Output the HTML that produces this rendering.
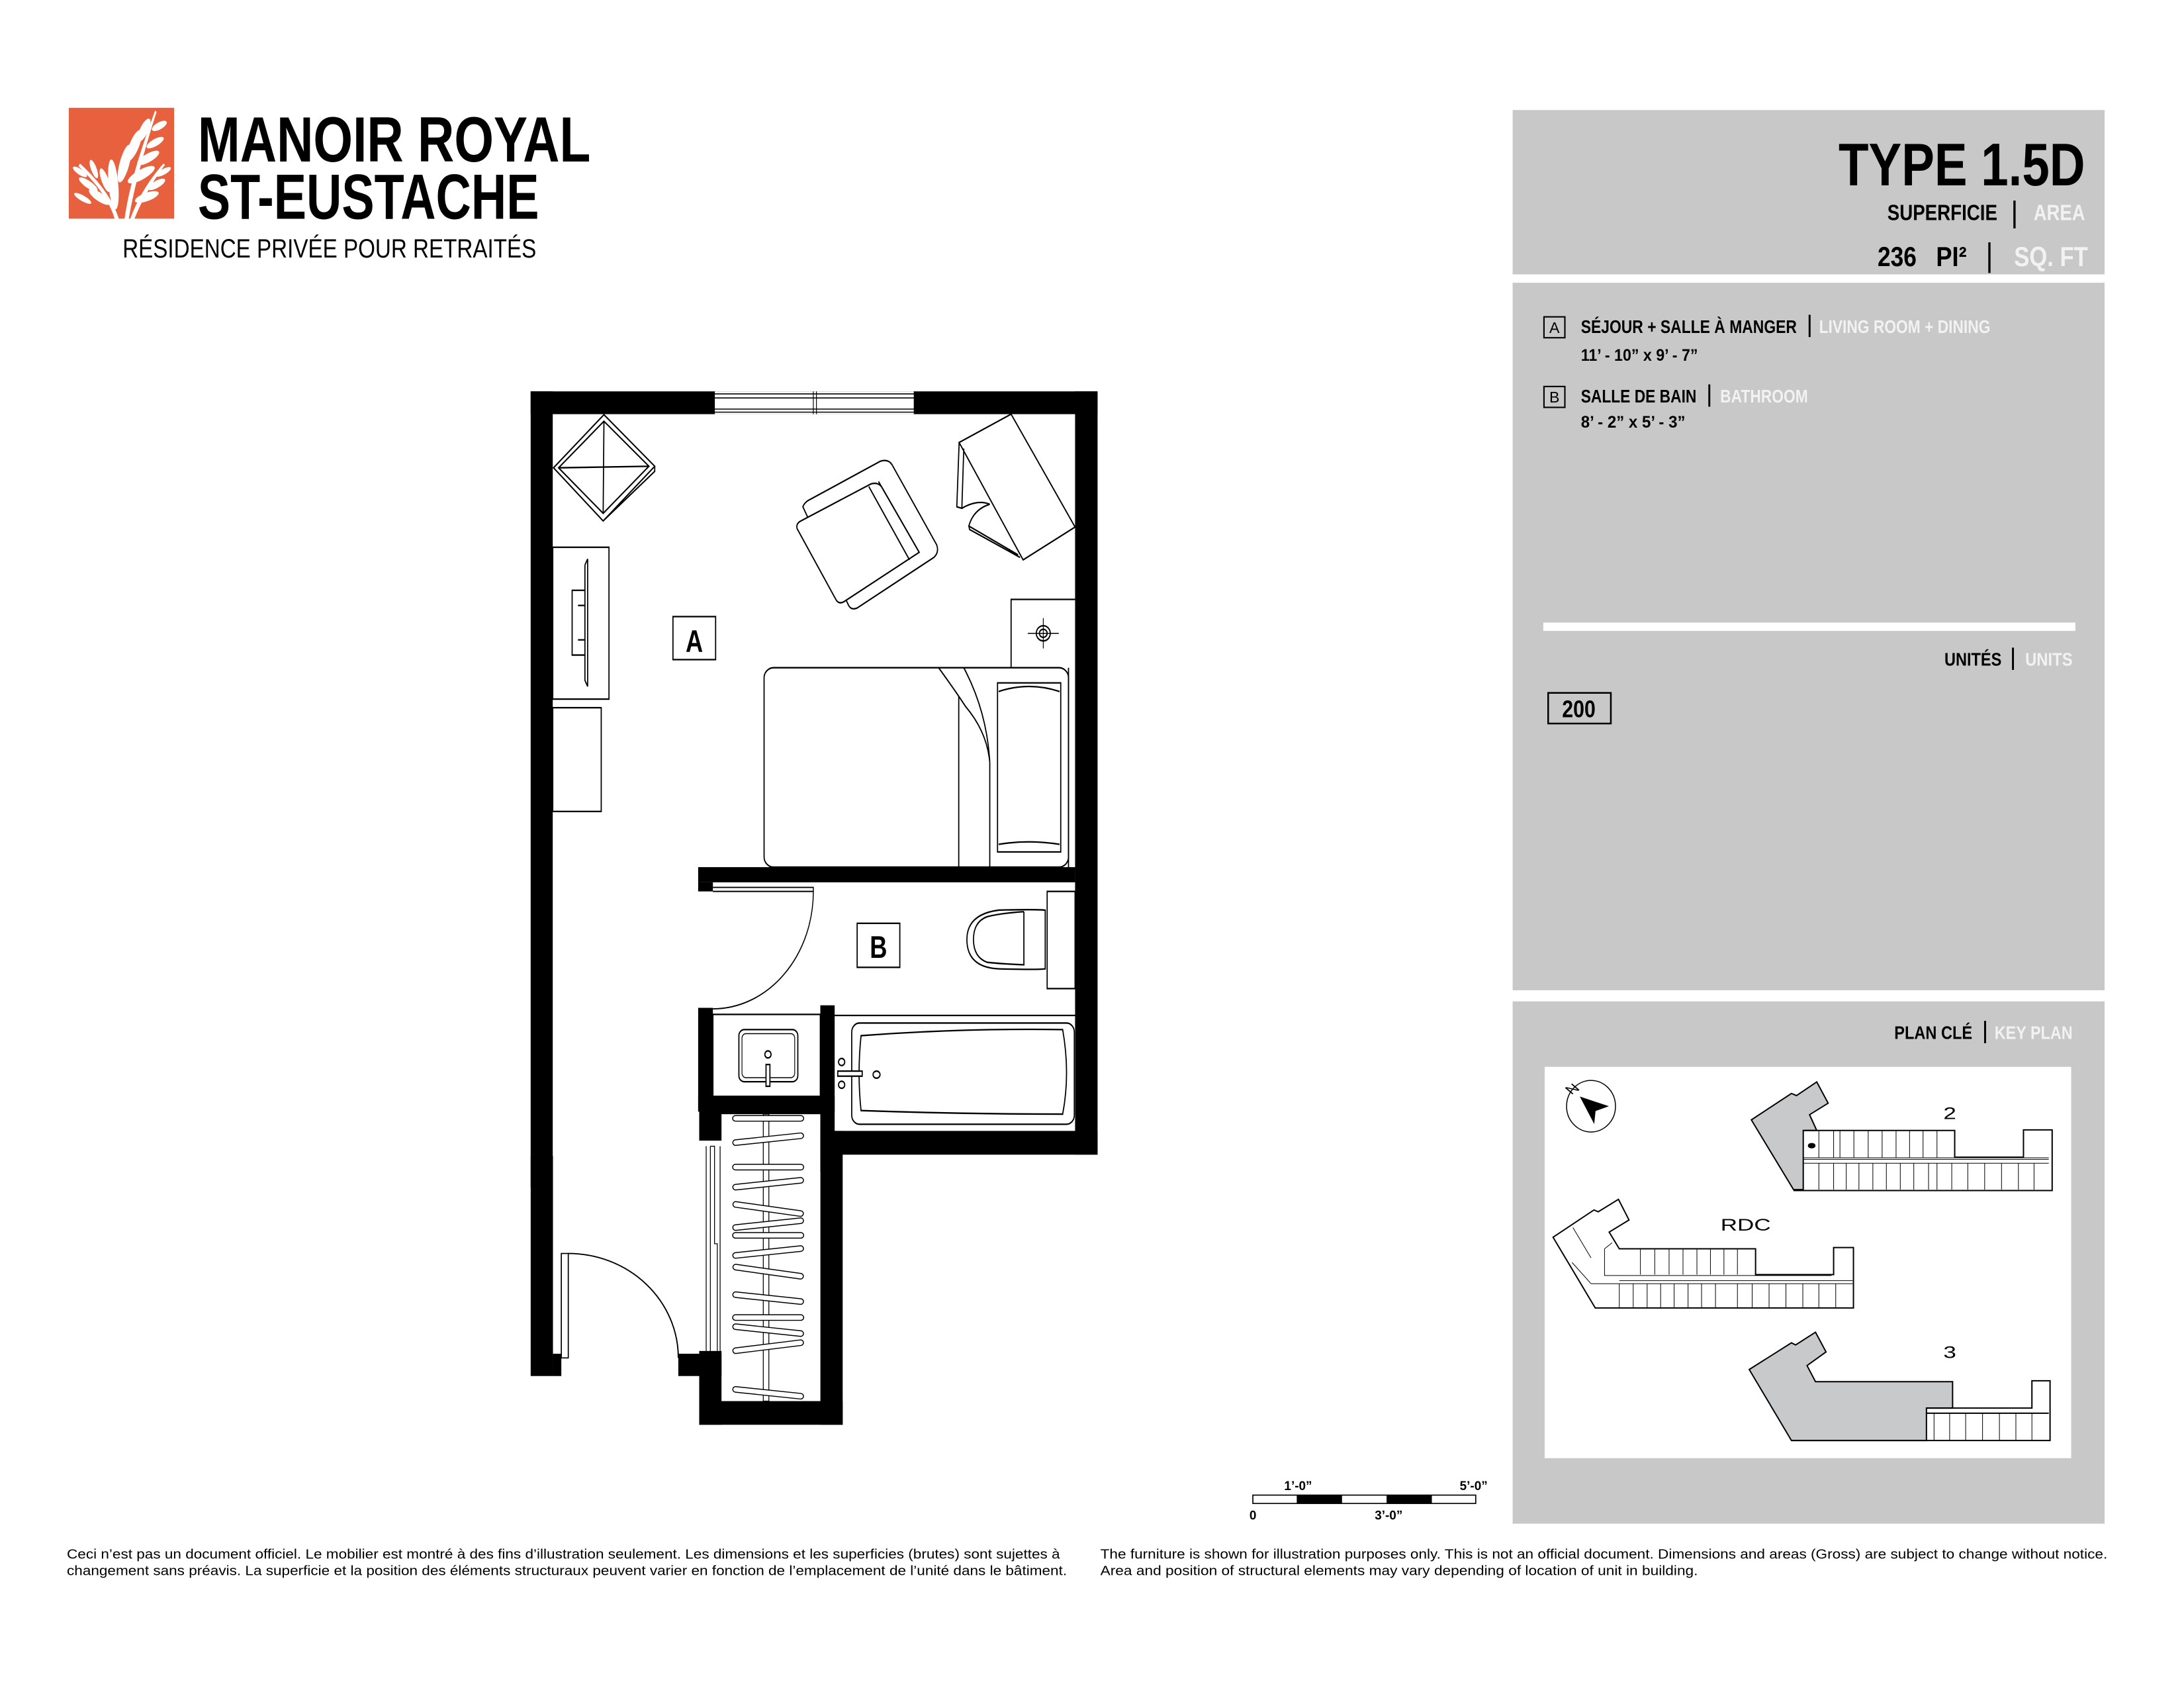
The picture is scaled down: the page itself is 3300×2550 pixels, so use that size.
<!DOCTYPE html>
<html><head><meta charset="utf-8"><style>
html,body{margin:0;padding:0;background:#fff;}
svg{display:block;}
text{font-family:"Liberation Sans",sans-serif;}
</style></head><body>
<svg width="3300" height="2550" viewBox="0 0 1568 1212" preserveAspectRatio="none" xmlns="http://www.w3.org/2000/svg">
<rect width="1568" height="1212" fill="#fff"/>

<!-- LOGO -->
<rect x="49.4" y="77.4" width="75.6" height="79.6" fill="#E8613F"/>
<g fill="#fff" transform="translate(49.4,77.4)">
  <path d="M40 80 Q44 50 62 2 L63 3 Q48 50 43 80 Z"/>
  <path d="M44 80 Q52 58 68 40 L69 41 Q55 60 47 80 Z"/>
  <path d="M36 80 Q30 60 8 40 L7 42 Q28 62 33 80 Z"/>
  <ellipse cx="32" cy="55" rx="3.5" ry="18" transform="rotate(-5 32 55)"/>
  <ellipse cx="40" cy="40" rx="3.5" ry="14" transform="rotate(15 40 40)"/>
  <ellipse cx="47" cy="27" rx="3.5" ry="12" transform="rotate(22 47 27)"/>
  <ellipse cx="54" cy="16" rx="3" ry="9" transform="rotate(25 54 16)"/>
  <ellipse cx="52" cy="48" rx="3.5" ry="11" transform="rotate(60 52 48)"/>
  <ellipse cx="57" cy="36" rx="3" ry="9" transform="rotate(60 57 36)"/>
  <ellipse cx="62" cy="25" rx="2.5" ry="7" transform="rotate(60 62 25)"/>
  <ellipse cx="65" cy="13" rx="2.5" ry="6" transform="rotate(60 65 13)"/>
  <ellipse cx="56" cy="64" rx="3" ry="9" transform="rotate(70 56 64)"/>
  <ellipse cx="63" cy="55" rx="2.5" ry="7" transform="rotate(60 63 55)"/>
  <ellipse cx="68" cy="46" rx="2" ry="6" transform="rotate(60 68 46)"/>
  <ellipse cx="22" cy="64" rx="3" ry="9" transform="rotate(-55 22 64)"/>
  <ellipse cx="14" cy="55" rx="2.5" ry="8" transform="rotate(-55 14 55)"/>
  <ellipse cx="8" cy="46" rx="2" ry="6" transform="rotate(-55 8 46)"/>
  <ellipse cx="26" cy="52" rx="2.5" ry="9" transform="rotate(-20 26 52)"/>
  <ellipse cx="18" cy="44" rx="2" ry="7" transform="rotate(-20 18 44)"/>
  <ellipse cx="10" cy="65" rx="2" ry="7" transform="rotate(-60 10 65)"/>
</g>
<text x="142" y="116" font-size="46" font-weight="bold" textLength="282" lengthAdjust="spacingAndGlyphs">MANOIR ROYAL</text>
<text x="142" y="157" font-size="46" font-weight="bold" textLength="245" lengthAdjust="spacingAndGlyphs">ST-EUSTACHE</text>
<text x="88" y="185" font-size="19" textLength="297" lengthAdjust="spacingAndGlyphs">RÉSIDENCE PRIVÉE POUR RETRAITÉS</text>

<!-- RIGHT PANELS -->
<rect x="1086" y="79" width="425" height="118" fill="#C8C8C8"/>
<rect x="1086" y="203" width="425" height="508" fill="#C8C8C8"/>
<rect x="1086" y="719" width="425" height="375" fill="#C8C8C8"/>
<text x="1320" y="133" font-size="43" font-weight="bold" textLength="177" lengthAdjust="spacingAndGlyphs">TYPE 1.5D</text>
<text x="1355" y="158" font-size="16" font-weight="bold" textLength="79" lengthAdjust="spacingAndGlyphs">SUPERFICIE</text>
<rect x="1445.5" y="144" width="1.6" height="20" fill="#000"/>
<text x="1460" y="158" font-size="16" font-weight="bold" fill="#F2F2F2" textLength="37" lengthAdjust="spacingAndGlyphs">AREA</text>
<text x="1348" y="191" font-size="20" font-weight="bold" textLength="28" lengthAdjust="spacingAndGlyphs">236</text>
<text x="1390" y="191" font-size="20" font-weight="bold" textLength="22" lengthAdjust="spacingAndGlyphs">PI²</text>
<rect x="1427.5" y="174" width="1.6" height="22" fill="#000"/>
<text x="1446" y="191" font-size="20" font-weight="bold" fill="#F2F2F2" textLength="53" lengthAdjust="spacingAndGlyphs">SQ. FT</text>

<rect x="1108.5" y="227.5" width="15" height="15" fill="none" stroke="#000" stroke-width="1"/>
<text x="1116" y="239" font-size="11" text-anchor="middle">A</text>
<text x="1135" y="239" font-size="13" font-weight="bold" textLength="155" lengthAdjust="spacingAndGlyphs">SÉJOUR + SALLE À MANGER</text>
<rect x="1298.5" y="226" width="1.4" height="16" fill="#000"/>
<text x="1306" y="239" font-size="13" font-weight="bold" fill="#F2F2F2" textLength="123" lengthAdjust="spacingAndGlyphs">LIVING ROOM + DINING</text>
<text x="1135" y="259" font-size="12" font-weight="bold" textLength="84" lengthAdjust="spacingAndGlyphs">11’ - 10” x 9’ - 7”</text>
<rect x="1108.5" y="277.5" width="15" height="15" fill="none" stroke="#000" stroke-width="1"/>
<text x="1116" y="289" font-size="11" text-anchor="middle">B</text>
<text x="1135" y="289" font-size="13" font-weight="bold" textLength="83" lengthAdjust="spacingAndGlyphs">SALLE DE BAIN</text>
<rect x="1226.5" y="276" width="1.4" height="16" fill="#000"/>
<text x="1235" y="289" font-size="13" font-weight="bold" fill="#F2F2F2" textLength="63" lengthAdjust="spacingAndGlyphs">BATHROOM</text>
<text x="1135" y="307" font-size="12" font-weight="bold" textLength="75" lengthAdjust="spacingAndGlyphs">8’ -  2” x 5’ - 3”</text>

<rect x="1108" y="447" width="382" height="6" fill="#fff"/>
<text x="1396" y="478" font-size="13" font-weight="bold" textLength="41" lengthAdjust="spacingAndGlyphs">UNITÉS</text>
<rect x="1444.5" y="465" width="1.4" height="16" fill="#000"/>
<text x="1454" y="478" font-size="13" font-weight="bold" fill="#F2F2F2" textLength="34" lengthAdjust="spacingAndGlyphs">UNITS</text>
<rect x="1111.5" y="497.5" width="45" height="22" fill="none" stroke="#000" stroke-width="1.2"/>
<text x="1133.5" y="515" font-size="17" font-weight="bold" text-anchor="middle" textLength="24" lengthAdjust="spacingAndGlyphs">200</text>

<text x="1360" y="746" font-size="13" font-weight="bold" textLength="56" lengthAdjust="spacingAndGlyphs">PLAN CLÉ</text>
<rect x="1424.5" y="733" width="1.4" height="16" fill="#000"/>
<text x="1432" y="746" font-size="13" font-weight="bold" fill="#F2F2F2" textLength="56" lengthAdjust="spacingAndGlyphs">KEY PLAN</text>
<rect x="1109" y="766" width="378" height="281" fill="#fff"/>

<!-- KEY PLAN drawing in zoom coords -->
<g transform="matrix(0.3029,0,0,0.2178,1092.3,722.4)" stroke="#000" fill="none" stroke-width="1" >
  <ellipse cx="165" cy="330" rx="58" ry="85" stroke-width="1.5" vector-effect="non-scaling-stroke"/>
  <path d="M140 300 L205 330 L175 345 L172 385 Z" fill="#000" vector-effect="non-scaling-stroke"/>
  <text x="110" y="290" font-size="40" transform="rotate(-40 118 280)" fill="#000" stroke="none">N</text>
  <path d="M545 375 L640 288 L652 295 L700 250 L727 320 L683 358 L700 410 L668 410 L668 605 L645 605 Z" fill="#C8C9CB" stroke-width="2" vector-effect="non-scaling-stroke"/>
  <path d="M668 410 L1027 410 L1027 498 L1190 498 L1190 408 L1258 408 L1258 608 L645 608" stroke-width="2" vector-effect="non-scaling-stroke"/>
  <path d="M668 505 L1250 505 M668 518 L1250 518 M668 500 L1250 500" vector-effect="non-scaling-stroke"/>
  <path d="M705 410V500 M740 410V500 M755 410V500 M788 410V500 M822 410V500 M855 410V500 M888 410V500 M920 410V500 M952 410V500 M985 410V500 M705 518V605 M740 518V605 M770 518V605 M800 518V605 M833 518V605 M865 518V605 M898 518V605 M930 518V605 M965 518V605 M985 518V605 M1020 518V605 M1058 518V605 M1098 518V605 M1138 518V605 M1178 518V605 M1215 518V605" vector-effect="non-scaling-stroke"/>
  <circle cx="688" cy="460" r="9" fill="#000" stroke="none"/>
  <text x="1000" y="372" font-size="55" fill="#000" stroke="none">2</text>
  <path d="M75 762 L172 672 L182 678 L230 637 L255 705 L208 745 L232 800 L555 800 L555 885 L740 885 L740 796 L787 796 L787 995 L175 995 Z" stroke-width="2" vector-effect="non-scaling-stroke"/>
  <path d="M197 800 L197 888 L735 888 M165 915 L785 915 M232 905 L785 905 M120 845 L165 915 M122 730 L165 830 M208 745 L232 800 M197 800 L215 780" vector-effect="non-scaling-stroke"/>
  <path d="M282 800V885 M316 800V885 M350 800V885 M383 800V885 M416 800V885 M448 800V885 M480 800V885 M512 800V885 M232 915V993 M265 915V993 M298 915V993 M330 915V993 M362 915V993 M395 915V993 M427 915V993 M460 915V993 M512 915V993 M547 915V993 M587 915V993 M627 915V993 M667 915V993 M705 915V993 M745 915V993" vector-effect="non-scaling-stroke"/>
  <text x="472" y="740" font-size="55" fill="#000" stroke="none">RDC</text>
  <path d="M540 1198 L640 1110 L650 1117 L697 1075 L722 1140 L677 1185 L697 1238 L1022 1238 L1022 1325 L960 1325 L960 1432 L640 1432 Z" fill="#C8C9CB" stroke-width="2" vector-effect="non-scaling-stroke"/>
  <path d="M960 1325 L1210 1325 L1210 1235 L1253 1235 L1253 1432 L640 1432 M960 1342 L1250 1342" stroke-width="2" vector-effect="non-scaling-stroke"/>
  <path d="M978 1342V1430 M1015 1342V1430 M1053 1342V1430 M1093 1342V1430 M1133 1342V1430 M1172 1342V1430 M1210 1342V1430" vector-effect="non-scaling-stroke"/>
  <text x="1000" y="1160" font-size="55" fill="#000" stroke="none">3</text>
</g>

<!-- FLOOR PLAN upper (zoom2 coords) -->
<g transform="matrix(0.2784,0,0,0.3634,370.4,271.2)">
  <g fill="#000">
    <rect x="38" y="27" width="1462" height="45"/>
    <rect x="38" y="27" width="57" height="1573"/>
    <rect x="1442" y="27" width="58" height="1508"/>
    <rect x="470" y="967" width="972" height="30"/>
    <rect x="470" y="997" width="38" height="18"/>
    <rect x="785" y="1490" width="715" height="45"/>
    <rect x="470" y="1245" width="38" height="205"/>
    <rect x="470" y="1420" width="352" height="30"/>
    <rect x="785" y="1240" width="37" height="330"/>
  </g>
  <g fill="none" stroke="#000" stroke-width="3">
  <rect x="512" y="27" width="515" height="45" fill="#fff" stroke="none"/>
  <path d="M512 32H1027 M512 40H1027 M512 62H1027 M512 68H1027 M512 27V72 M767 27V72 M775 27V72 M1027 27V72" stroke-width="2"/>
  <path d="M227 73 L358 175 L225 283 L97 178 Z M227 86 L343 175 L225 268 L110 178 Z M227 86 L225 268 M110 178 L343 175 M358 175 V185 L225 283"/>
  <rect x="95" y="335" width="145" height="300"/>
  <path d="M185 358 V610 M178 370 V598 L185 610 M178 370 L185 358 M145 420 H178 V548 H145 Z M160 450 H178 V518 H160"/>
  <rect x="95" y="652" width="125" height="205"/>
  <rect x="405" y="472" width="110" height="85"/>
  <text x="460" y="542" font-size="62" font-weight="bold" text-anchor="middle" fill="#000" stroke="none">A</text>
  <path d="M740 255 Q745 245 760 240 L940 165 Q960 160 970 172 L1085 330 Q1092 345 1078 355 L880 455 Q865 460 858 450 Z" fill="#fff"/>
  <path d="M725 298 Q722 288 735 283 L915 210 Q935 205 945 218 L1040 345 L845 443 Q832 448 825 438 Z" fill="#fff"/>
  <path d="M910 215 L1015 360 M935 205 L1040 345"/>
  <path d="M1143 128 L1277 72 L1442 295 L1308 360 Z" fill="#fff"/>
  <path d="M1143 128 L1137 255 L1150 258 L1155 140 M1150 258 Q1190 240 1222 250 M1222 250 Q1180 260 1168 293 L1295 350 M1168 293 L1170 300 L1300 355"/>
  <path d="M1277 572 V438 H1442"/>
  <ellipse cx="1360" cy="505" rx="18" ry="15"/>
  <ellipse cx="1360" cy="505" rx="10" ry="8"/>
  <path d="M1320 505 H1400 M1360 475 V535" stroke-width="2"/>
  <rect x="640" y="573" width="785" height="394" rx="25" ry="20" fill="#fff"/>
  <path d="M1142 630 V967 M1222 760 V967 M1425 573 V967 M1090 573 Q1130 615 1160 650 Q1215 700 1222 760 M1155 573 Q1215 660 1222 760"/>
  <path d="M1242 603 H1405 V937 H1242 Z M1245 620 Q1323 600 1402 620 M1245 922 Q1323 912 1402 922"/>
  <path d="M508 1007 H767 V1015 H508" stroke-width="2.5"/>
  <path d="M767 1015 A259 232 0 0 1 508 1247" stroke-width="2.5"/>
  <rect x="880" y="1078" width="110" height="87"/>
  <text x="935" y="1146" font-size="62" font-weight="bold" text-anchor="middle" fill="#000" stroke="none">B</text>
  <rect x="1370" y="1015" width="72" height="192"/>
  <path d="M1365 1052 Q1340 1050 1245 1052 Q1163 1060 1163 1110 Q1163 1165 1245 1168 Q1340 1170 1365 1168 Z"/>
  <path d="M1310 1055 V1160 Q1250 1158 1215 1155 Q1180 1145 1180 1110 Q1180 1075 1215 1065 Q1250 1058 1310 1055"/>
  <rect x="508" y="1258" width="277" height="162"/>
  <rect x="575" y="1288" width="152" height="103" rx="14" ry="12"/>
  <rect x="583" y="1296" width="136" height="87" rx="10" ry="9" stroke-width="2"/>
  <ellipse cx="650" cy="1337" rx="8" ry="7"/>
  <rect x="645" y="1357" width="10" height="43" fill="#fff"/>
  <path d="M822 1260 H1442"/>
  <rect x="866" y="1275" width="574" height="200" rx="20" ry="18"/>
  <path d="M890 1300 Q1150 1285 1410 1288 Q1430 1375 1410 1455 Q1150 1455 890 1448 Q880 1375 890 1300 Z"/>
  <ellipse cx="840" cy="1352" rx="8" ry="7"/>
  <ellipse cx="840" cy="1397" rx="8" ry="7"/>
  <rect x="830" y="1370" width="63" height="10" fill="#fff"/>
  <ellipse cx="930" cy="1377" rx="9" ry="7"/>
  </g>
</g>

<!-- FLOOR PLAN lower (preview coords) -->
<g>
  <rect x="381" y="830" width="16" height="158" fill="#000"/>
  <rect x="397" y="972" width="6" height="16" fill="#000"/>
  <rect x="487" y="972" width="31" height="16" fill="#000"/>
  <rect x="502" y="970" width="16" height="53" fill="#000"/>
  <rect x="502" y="1006" width="103" height="17" fill="#000"/>
  <rect x="589" y="812" width="16" height="211" fill="#000"/>
  <rect x="589" y="812" width="199" height="17" fill="#000"/>
  <rect x="502" y="797" width="16" height="22" fill="#000"/>
  <rect x="502" y="790" width="87" height="10" fill="#000"/>
  <rect x="403" y="900" width="5" height="75" fill="#fff" stroke="#000" stroke-width="0.8"/>
  <path d="M408 900 A79 75 0 0 1 487 975" fill="none" stroke="#000" stroke-width="0.9"/>
  <path d="M507 823 V970 M510 823 V970 M510 823 H513 V893 H515 V970 M513 893 H515 M517 823 V970" fill="none" stroke="#000" stroke-width="0.6"/>
  <rect x="548" y="800" width="4" height="206" fill="#fff" stroke="#000" stroke-width="0.6"/>
  <g fill="#fff" stroke="#000" stroke-width="0.7">
    <rect x="526" y="801" width="51" height="4" rx="2"/>
    <rect x="526" y="816" width="51" height="4" rx="2" transform="rotate(-6 551 818)"/>
    <rect x="526" y="836" width="51" height="4" rx="2"/>
    <rect x="526" y="848" width="51" height="4" rx="2" transform="rotate(-6 551 850)"/>
    <rect x="526" y="866" width="51" height="4" rx="2" transform="rotate(8 551 868)"/>
    <rect x="526" y="877" width="51" height="4" rx="2" transform="rotate(-6 551 879)"/>
    <rect x="526" y="885" width="51" height="4" rx="2"/>
    <rect x="526" y="897" width="51" height="4" rx="2" transform="rotate(-6 551 899)"/>
    <rect x="526" y="911" width="51" height="4" rx="2" transform="rotate(8 551 913)"/>
    <rect x="526" y="930" width="51" height="4" rx="2" transform="rotate(6 551 932)"/>
    <rect x="526" y="944" width="51" height="4" rx="2"/>
    <rect x="526" y="953" width="51" height="4" rx="2" transform="rotate(6 551 955)"/>
    <rect x="526" y="965" width="51" height="4" rx="2" transform="rotate(-7 551 967)"/>
    <rect x="526" y="998" width="51" height="4" rx="2" transform="rotate(6 551 1000)"/>
  </g>
</g>

<!-- SCALE BAR -->
<rect x="899.5" y="1073.5" width="160" height="6" fill="#fff" stroke="#000" stroke-width="0.8"/>
<rect x="931" y="1073.5" width="32.5" height="6" fill="#000"/>
<rect x="995.5" y="1073.5" width="32.5" height="6" fill="#000"/>
<text x="922" y="1070" font-size="9" font-weight="bold">1’-0”</text>
<text x="1048" y="1070" font-size="9" font-weight="bold">5’-0”</text>
<text x="897" y="1091" font-size="9" font-weight="bold">0</text>
<text x="987" y="1091" font-size="9" font-weight="bold">3’-0”</text>

<!-- FOOTER -->
<g font-size="9.6">
<text x="48" y="1119" textLength="713" lengthAdjust="spacingAndGlyphs">Ceci n’est pas un document officiel. Le mobilier est montré à des fins d’illustration seulement. Les dimensions et les superficies (brutes) sont sujettes à</text>
<text x="48" y="1131" textLength="718" lengthAdjust="spacingAndGlyphs">changement sans préavis. La superficie et la position des éléments structuraux peuvent varier en fonction de l’emplacement de l’unité dans le bâtiment.</text>
<text x="790" y="1119" textLength="723" lengthAdjust="spacingAndGlyphs">The furniture is shown for illustration purposes only. This is not an official document. Dimensions and areas (Gross) are subject to change without notice.</text>
<text x="790" y="1131" textLength="429" lengthAdjust="spacingAndGlyphs">Area and position of structural elements may vary depending of location of unit in building.</text>
</g>
</svg>
</body></html>
